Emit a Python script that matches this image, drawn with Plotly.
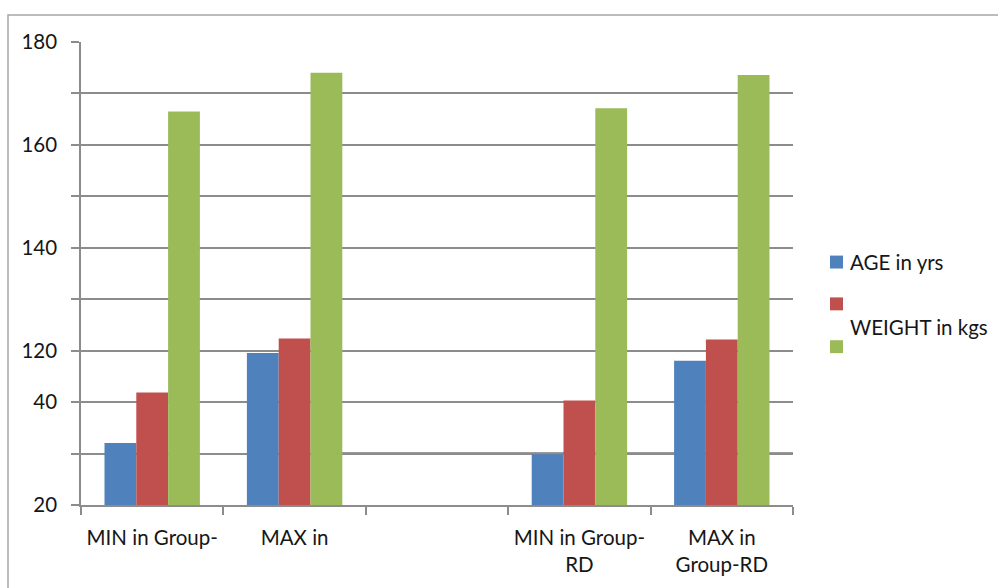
import plotly.graph_objects as go

# Category labels along the x axis (middle slot is intentionally blank)
categories = ["MIN in Group-", "MAX in", " ", "MIN in Group-<br>RD", "MAX in<br>Group-RD"]

# Series values, expressed in the chart's own axis units
age_yrs = [24.1, 59.1, None, 19.7, 56.1]
weight_kgs = [43.7, 64.7, None, 40.6, 64.3]
height_series = [153.0, 168.0, None, 154.2, 167.2]

series_names = ["AGE in yrs", "WEIGHT in kgs", ""]
series_colors = ["#4F81BD", "#C0504D", "#9BBB59"]

# Y-axis grid positions and the labels printed beside them
y_tickvals = [0, 20, 40, 60, 80, 100, 120, 140, 160, 180]
y_ticktext = ["20", "", "40", "120", "", "140", "", "160", "", "180"]

W, H = 998, 588
L, R, T, B = 81, 205, 42, 81
PW, PH = W - L - R, H - T - B


def px(x):
    return (x - L) / PW


def py(y):
    return (H - B - y) / PH


FONT = "Lato"
FS = 20.5
TXT = "#161616"
GRID = "#8c8c8c"

fig = go.Figure()
for name, vals, col in zip(series_names, [age_yrs, weight_kgs, height_series], series_colors):
    fig.add_trace(go.Bar(x=categories, y=vals, name=name, marker=dict(color=col, line=dict(width=0)),
                         showlegend=False))

fig.update_layout(
    width=W, height=H,
    margin=dict(l=L, r=R, t=T, b=B, pad=0),
    paper_bgcolor="white", plot_bgcolor="white",
    barmode="group", bargap=0.33, bargroupgap=0,
    font=dict(family=FONT, size=FS, color=TXT),
)

fig.update_xaxes(
    type="category", categoryorder="array", categoryarray=categories,
    showline=True, linecolor=GRID, linewidth=1.5,
    ticks="outside", tickson="boundaries", ticklen=8, tickcolor=GRID, tickwidth=1.5,
    showgrid=False, ticklabelstandoff=14,
    tickfont=dict(family=FONT, size=FS, color=TXT),
)
fig.update_yaxes(
    range=[0, 180], tickvals=y_tickvals, ticktext=y_ticktext,
    showline=True, linecolor=GRID, linewidth=1.5,
    ticks="outside", ticklen=8, tickcolor=GRID, tickwidth=1.5,
    showgrid=True, gridcolor=GRID, gridwidth=1.5, zeroline=False,
    ticklabelstandoff=10,
    tickfont=dict(family=FONT, size=FS, color=TXT),
)

shapes = []
# darker rule along the first grid line on the right half
shapes.append(dict(type="line", xref="paper", yref="y", x0=px(342), x1=1, y0=20, y1=20,
                   line=dict(color="#7a7a7a", width=2.5), layer="between"))
# outer chart frame
shapes.append(dict(type="rect", xref="paper", yref="paper", x0=px(8), x1=px(1010),
                   y0=py(600), y1=py(15), line=dict(color="#a6a6a6", width=1.5), layer="below"))

# legend keys
legend_rows = [263, 305, 348]
for cy, col in zip(legend_rows, series_colors):
    shapes.append(dict(type="rect", xref="paper", yref="paper", x0=px(830), x1=px(843),
                       y0=py(cy + 6.5), y1=py(cy - 6.5), fillcolor=col, line=dict(width=0)))

annotations = [
    dict(text=series_names[0], x=px(848), y=py(263), xref="paper", yref="paper",
         xanchor="left", yanchor="middle", showarrow=False,
         font=dict(family=FONT, size=FS, color=TXT)),
    dict(text=series_names[1], x=px(848), y=py(328), xref="paper", yref="paper",
         xanchor="left", yanchor="middle", showarrow=False,
         font=dict(family=FONT, size=FS, color=TXT)),
]

fig.update_layout(shapes=shapes, annotations=annotations)
fig.write_html("out.html")
